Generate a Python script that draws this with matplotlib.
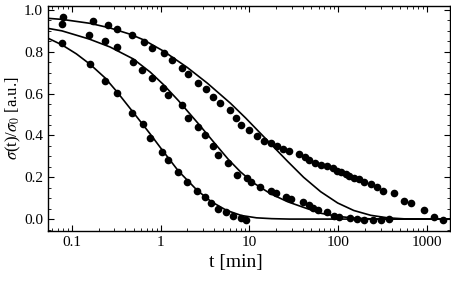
import matplotlib
matplotlib.use('Agg')
import matplotlib.pyplot as plt
from matplotlib.ticker import FixedLocator, LogLocator, MultipleLocator, FuncFormatter, NullFormatter

plt.rcParams['font.family'] = ['Liberation Serif', 'DejaVu Serif']
plt.rcParams['mathtext.fontset'] = 'stix'

# ---- measured points (t in min, normalised sigma) ----
t_a = [0.077, 0.160, 0.236, 0.322, 0.477, 0.634, 0.760, 1.04, 1.22, 1.58,
       1.99, 2.58, 3.18, 3.72, 4.47, 5.50, 6.59, 8.12, 9.25]
s_a = [0.842, 0.742, 0.660, 0.603, 0.507, 0.455, 0.388, 0.321, 0.282, 0.225,
       0.177, 0.134, 0.105, 0.077, 0.048, 0.033, 0.014, 0.005, -0.005]

t_b = [0.077, 0.156, 0.236, 0.322, 0.489, 0.618, 0.802, 1.07, 1.22, 1.75,
       2.05, 2.66, 3.18, 3.92, 4.47, 5.79, 7.31, 9.48, 10.3, 13.0,
       17.3, 19.7, 25.5, 29.0, 39.7, 46.4, 51.5, 58.6, 74.1, 88.9,
       101, 135, 162, 194, 245, 302, 372]
s_b = [0.933, 0.880, 0.852, 0.823, 0.751, 0.713, 0.675, 0.627, 0.593, 0.545,
       0.483, 0.440, 0.402, 0.349, 0.306, 0.268, 0.211, 0.196, 0.177, 0.153,
       0.134, 0.124, 0.105, 0.096, 0.081, 0.067, 0.053, 0.043, 0.033, 0.014,
       0.010, 0.005, 0.0, -0.005, -0.005, -0.005, 0.0]

t_c = [0.0791, 0.173, 0.255, 0.322, 0.477, 0.652, 0.802, 1.096, 1.349, 1.75,
       2.045, 2.655, 3.266, 3.92, 4.70, 6.10, 7.13, 8.12, 10.0, 12.0,
       14.4, 17.3, 20.2, 23.6, 27.6, 35.8, 41.8, 46.4, 54.2, 63.4,
       74.1, 86.7, 96.1, 107, 122, 132, 150, 171, 194, 233,
       272, 318, 424, 550, 659, 925, 1200, 1517]
s_c = [0.967, 0.947, 0.928, 0.909, 0.880, 0.847, 0.818, 0.794, 0.761, 0.722,
       0.694, 0.651, 0.622, 0.584, 0.555, 0.522, 0.483, 0.450, 0.426, 0.397,
       0.373, 0.364, 0.349, 0.335, 0.325, 0.311, 0.297, 0.282, 0.268, 0.258,
       0.254, 0.244, 0.230, 0.225, 0.215, 0.206, 0.196, 0.191, 0.177, 0.167,
       0.153, 0.134, 0.124, 0.086, 0.077, 0.043, 0.010, -0.005]

# ---- fit curves ----
fit_t_a = [0.0536, 0.0771, 0.112, 0.160, 0.236, 0.322, 0.476, 0.634, 0.760, 1.04,
           1.58, 2.58, 3.72, 5.50, 8.13, 12.0, 17.8, 28.2, 1820]
fit_s_a = [0.865, 0.833, 0.790, 0.740, 0.675, 0.608, 0.517, 0.450, 0.407, 0.330,
           0.230, 0.137, 0.083, 0.042, 0.017, 0.006, 0.002, 0.0, 0.0]

fit_t_b = [0.0536, 0.0771, 0.156, 0.268, 0.489, 0.760, 1.067, 1.578, 2.655, 3.92,
           5.79, 7.91, 11.09, 17.3, 26.9, 40.7, 63.4, 98.6, 150, 233, 355, 1820]
fit_s_b = [0.912, 0.900, 0.861, 0.823, 0.766, 0.703, 0.644, 0.567, 0.456, 0.370,
           0.285, 0.226, 0.173, 0.121, 0.083, 0.056, 0.028, 0.013, 0.005, 0.001, 0.0, 0.0]

fit_t_c = [0.0536, 0.0771, 0.160, 0.268, 0.452, 0.634, 1.067, 1.991, 3.35, 6.10,
           9.02, 14.4, 26.9, 40.7, 63.4, 98.6, 150, 233, 362, 562, 891, 1820]
fit_s_c = [0.960, 0.955, 0.936, 0.914, 0.884, 0.858, 0.804, 0.725, 0.650, 0.554,
           0.484, 0.395, 0.276, 0.200, 0.131, 0.077, 0.041, 0.018, 0.006, 0.001, 0.0, 0.0]

x_ticks = [0.1, 1, 10, 100, 1000]
y_ticks = [0.0, 0.2, 0.4, 0.6, 0.8, 1.0]

fig = plt.figure(figsize=(4.52, 2.94), dpi=100)
ax = fig.add_axes([48 / 452, 1 - 231 / 294, 402 / 452, 225 / 294])

for ft, fs in [(fit_t_a, fit_s_a), (fit_t_b, fit_s_b), (fit_t_c, fit_s_c)]:
    ax.plot(ft, fs, color='black', linewidth=1.2, solid_joinstyle='round')
for t, s in [(t_a, s_a), (t_b, s_b), (t_c, s_c)]:
    ax.plot(t, s, 'o', color='black', markersize=5.5, markeredgewidth=0)

ax.set_xscale('log')
ax.set_xlim(0.0536, 1820)
ax.set_ylim(-0.057, 1.019)

ax.xaxis.set_major_locator(FixedLocator(x_ticks))
ax.xaxis.set_major_formatter(FuncFormatter(lambda v, p: '%g' % v))
ax.xaxis.set_minor_locator(LogLocator(base=10, subs=range(2, 10), numticks=20))
ax.xaxis.set_minor_formatter(NullFormatter())
ax.yaxis.set_major_locator(FixedLocator(y_ticks))
ax.yaxis.set_major_formatter(FuncFormatter(lambda v, p: '%.1f' % v))
ax.yaxis.set_minor_locator(MultipleLocator(0.05))

ax.tick_params(which='both', direction='in', top=True, right=True, labelsize=11)
ax.tick_params(which='major', length=4, width=0.8)
ax.tick_params(which='minor', length=2, width=0.6)
for sp in ax.spines.values():
    sp.set_linewidth(1.0)

ax.set_xlabel('t [min]', fontsize=14)
ax.xaxis.set_label_coords((236 - 48) / 402, -0.10)
ax.set_ylabel(r'$\sigma$(t)/$\sigma_0$ [a.u.]', fontsize=12)
ax.yaxis.set_label_coords(-0.062, 0.5)

fig.savefig('out.png', dpi=100)
